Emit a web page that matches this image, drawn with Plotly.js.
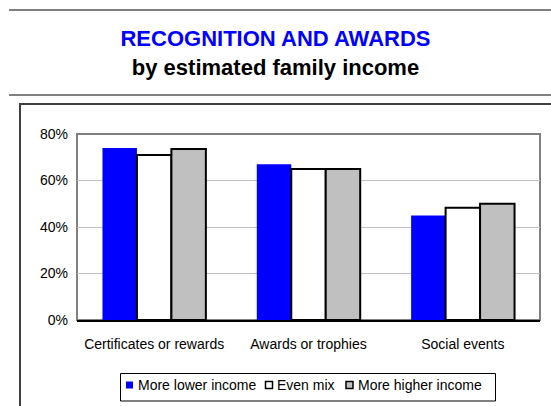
<!DOCTYPE html>
<html>
<head>
<meta charset="utf-8">
<script src="https://cdn.plot.ly/plotly-3.0.1.min.js"></script>
<style>html,body{margin:0;padding:0;background:#fff;} #chart{width:551px;height:406px;}</style>
</head>
<body>
<div id="chart"></div>
<script>
// ---- data ----
var categories = ['Certificates or rewards', 'Awards or trophies', 'Social events'];
var seriesNames = ['More lower income', 'Even mix', 'More higher income'];
var lowerIncome = [0.74, 0.67, 0.45];
var evenMix = [0.71, 0.65, 0.483];
var higherIncome = [0.735, 0.65, 0.50];
var yTickVals = [0, 0.2, 0.4, 0.6, 0.8];
var yTickText = ['0%', '20%', '40%', '60%', '80%'];

// ---- styles ----
var FONT = 'Liberation Sans, Arial, sans-serif';
var fills = ['#0000FF', '#FFFFFF', '#C0C0C0'];
var outlines = [0, 2, 2];

var seriesValues = [lowerIncome, evenMix, higherIncome];
var traces = seriesValues.map(function (vals, i) {
  return {
    type: 'bar', name: seriesNames[i], x: categories, y: vals,
    marker: {color: fills[i], line: {color: '#000000', width: outlines[i]}},
    showlegend: false
  };
});

// ---- layout geometry (pixels) ----
var L = 77, R = 11, T = 134, B = 86, W = 551, H = 406;
var pw = W - L - R, ph = H - T - B;
function px(x) { return (x - L) / pw; }
function py(y) { return (H - B - y) / ph; }

var shapes = [
  {type: 'line', xref: 'paper', yref: 'paper', x0: px(9), x1: px(560), y0: py(10), y1: py(10),
   line: {color: '#808080', width: 2}},
  {type: 'line', xref: 'paper', yref: 'paper', x0: px(9), x1: px(560), y0: py(95), y1: py(95),
   line: {color: '#808080', width: 2}},
  {type: 'rect', xref: 'paper', yref: 'paper', x0: px(20), x1: px(600), y0: py(460), y1: py(104),
   line: {color: '#404040', width: 2}, fillcolor: 'rgba(0,0,0,0)'},
  {type: 'rect', xref: 'paper', yref: 'paper', x0: 0, x1: 1, y0: 0, y1: 1,
   line: {color: '#808080', width: 2}, fillcolor: 'rgba(0,0,0,0)', layer: 'below'},
  // legend box
  {type: 'rect', xref: 'paper', yref: 'paper', x0: px(120.5), x1: px(495.5), y0: py(401), y1: py(373.5),
   line: {color: '#000000', width: 1}, fillcolor: '#FFFFFF'}
];
var annotations = [];

// custom legend (layout positions)
var legendSwatchX = [126, 265.5, 346];
var legendCenterY = 385;
var sw = 7;
seriesNames.forEach(function (name, i) {
  var x0 = legendSwatchX[i];
  shapes.push({
    type: 'rect', xref: 'paper', yref: 'paper',
    x0: px(x0), x1: px(x0 + sw), y0: py(legendCenterY + sw / 2), y1: py(legendCenterY - sw / 2),
    fillcolor: fills[i],
    line: {color: '#000000', width: outlines[i] ? 1.5 : 0}
  });
  annotations.push({
    xref: 'paper', yref: 'paper', x: px(x0 + sw + 2.5), y: py(legendCenterY),
    xanchor: 'left', yanchor: 'middle', showarrow: false,
    text: name, font: {family: FONT, size: 14, color: '#000000'}
  });
});

var layout = {
  width: W, height: H,
  margin: {l: L, r: R, t: T, b: B, autoexpand: false},
  paper_bgcolor: '#FFFFFF',
  plot_bgcolor: '#FFFFFF',
  font: {family: FONT, size: 14, color: '#000000'},
  barmode: 'group',
  bargap: 0.33,
  bargroupgap: 0,
  showlegend: false,
  title: {
    text: '<b>RECOGNITION AND AWARDS</b><br><b><span style="color:#000000">by estimated family income</span></b>',
    font: {family: FONT, size: 22, color: '#0000FF'},
    x: 0.5, xanchor: 'center', xref: 'container',
    y: 1 - 46 / H, yanchor: 'top', yref: 'container'
  },
  xaxis: {
    type: 'category',
    showgrid: false,
    showline: true, linecolor: '#000000', linewidth: 1.5,
    ticks: '', ticklabelstandoff: 11,
    tickfont: {family: FONT, size: 14, color: '#000000'},
    fixedrange: true
  },
  yaxis: {
    range: [0, 0.8],
    tickvals: yTickVals, ticktext: yTickText,
    showgrid: true, gridcolor: '#C0C0C0', gridwidth: 1,
    zeroline: false, showline: false,
    ticks: '', ticklabelstandoff: 8,
    tickfont: {family: FONT, size: 14, color: '#000000'},
    fixedrange: true
  },
  shapes: shapes,
  annotations: annotations
};

Plotly.newPlot('chart', traces, layout, {displayModeBar: false, staticPlot: true});
</script>
</body>
</html>
